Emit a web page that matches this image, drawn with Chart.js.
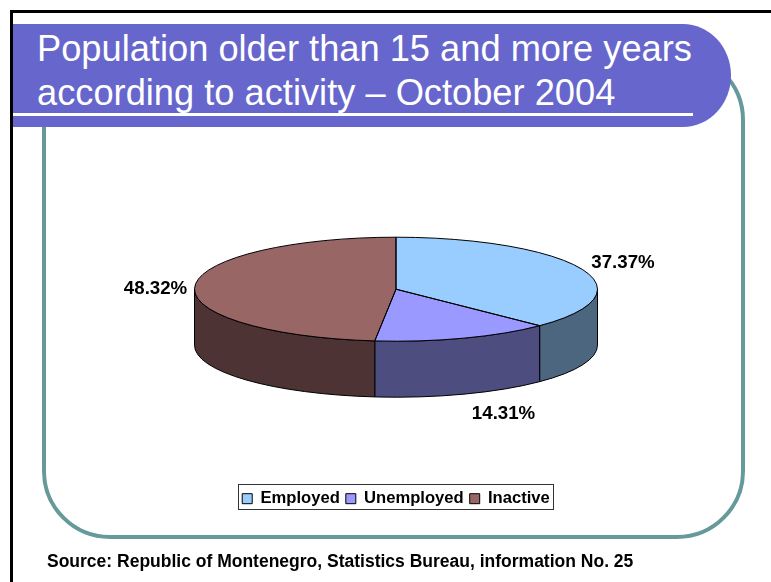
<!DOCTYPE html>
<html><head><meta charset="utf-8">
<script src="https://cdn.jsdelivr.net/npm/chart.js@4"></script>
<style>
html,body{margin:0;padding:0;background:#fff;width:771px;height:582px;overflow:hidden;font-family:"Liberation Sans",Arial,sans-serif}
#bt{position:absolute;left:10px;top:10px;width:761px;height:3px;background:#000}
#bl{position:absolute;left:10px;top:10px;width:3px;height:572px;background:#000}
#frame{position:absolute;left:42px;top:52px;width:695px;height:479px;border:4px solid #669999;border-radius:68px}
#band{position:absolute;left:13px;top:24px;width:718px;height:103px;background:#6666cc;border-radius:0 48px 48px 0/0 51.5px 51.5px 0}
#rule{position:absolute;left:13px;top:113px;width:680px;height:3px;background:#fff}
.t{position:absolute;left:37px;color:#fff;font-size:36.25px;line-height:44px;white-space:nowrap}
#src{position:absolute;left:47px;top:550px;font-weight:bold;font-size:17.5px;line-height:22px;white-space:nowrap;color:#000}
canvas{position:absolute;left:0;top:0}
</style></head><body>
<div id="bt"></div><div id="bl"></div><div id="frame"></div><div id="band"></div><div id="rule"></div>
<div class="t" style="top:27px">Population older than 15 and more years</div>
<div class="t" style="top:71px">according to activity – October 2004</div>
<canvas id="c" width="771" height="582"></canvas>
<div id="src">Source: Republic of Montenegro, Statistics Bureau, information No. 25</div>
<script>
const categories = ["Employed", "Unemployed", "Inactive"];
const shares = [37.37, 14.31, 48.32];
const topColors = ["#99ccff", "#9999ff", "#996666"];
const sideColors = ["#4d6680", "#4d4d80", "#4d3333"];
const valueLabels = ["37.37%", "14.31%", "48.32%"];
const labelOffsets = [[4, -2.5], [26, 65.5], [1, 2.5]];
const squash = 52 / 201.5, depth = 56;

const tilt = {
  id: "tilt",
  beforeDatasetsDraw(chart) {
    const ctx = chart.ctx, arcs = chart.getDatasetMeta(0).data;
    ctx.save();
    ctx.lineWidth = 1; ctx.strokeStyle = "#000";
    arcs.forEach((a, i) => {
      const p = a.getProps(["x", "y", "startAngle", "endAngle", "outerRadius"], true);
      const s = Math.max(p.startAngle, 0), e = Math.min(p.endAngle, Math.PI);
      if (e <= s) return;
      const ry = p.outerRadius * squash;
      ctx.beginPath();
      ctx.ellipse(p.x, p.y, p.outerRadius, ry, 0, s, e);
      ctx.lineTo(p.x + p.outerRadius * Math.cos(e), p.y + ry * Math.sin(e) + depth);
      ctx.ellipse(p.x, p.y + depth, p.outerRadius, ry, 0, e, s, true);
      ctx.closePath();
      ctx.fillStyle = sideColors[i];
      ctx.fill(); ctx.stroke();
    });
    ctx.restore();
    const c = arcs[0];
    ctx.save();
    ctx.translate(0, c.y);
    ctx.scale(1, squash);
    ctx.translate(0, -c.y);
  },
  afterDatasetsDraw(chart) {
    const ctx = chart.ctx, arcs = chart.getDatasetMeta(0).data;
    ctx.restore();
    ctx.save();
    ctx.lineWidth = 1; ctx.strokeStyle = "#000";
    arcs.forEach((a, i) => {
      const p = a.getProps(["x", "y", "startAngle", "endAngle", "outerRadius"], true);
      const ry = p.outerRadius * squash;
      ctx.beginPath();
      ctx.moveTo(p.x, p.y);
      ctx.ellipse(p.x, p.y, p.outerRadius, ry, 0, p.startAngle, p.endAngle);
      ctx.closePath();
      ctx.stroke();
      const m = (p.startAngle + p.endAngle) / 2;
      const lx = p.x + p.outerRadius * Math.cos(m) * 1.2 + labelOffsets[i][0];
      const ly = p.y + ry * Math.sin(m) * 1.2 + labelOffsets[i][1];
      ctx.fillStyle = "#000";
      ctx.font = "bold 18.7px 'Liberation Sans'";
      ctx.textAlign = "center"; ctx.textBaseline = "middle";
      ctx.fillText(valueLabels[i], lx, ly);
    });
    ctx.restore();
  },
  afterDraw(chart) {
    const l = chart.legend, ctx = chart.ctx;
    const hb = l.legendHitBoxes;
    const x0 = hb[0].left - 4, x1 = hb[hb.length - 1].left + hb[hb.length - 1].width + 3;
    ctx.save();
    ctx.strokeStyle = "#333"; ctx.lineWidth = 1;
    ctx.strokeRect(Math.round(x0) + .5, 484.5, Math.round(x1 - x0), 25);
    ctx.restore();
  }
};

new Chart(document.getElementById("c"), {
  type: "pie",
  data: { labels: categories, datasets: [{ data: shares, backgroundColor: topColors, borderWidth: 0, hoverOffset: 0 }] },
  options: {
    responsive: false, animation: false,
    radius: 201.5,
    layout: { padding: { left: 194, right: 173, top: 94, bottom: 65 } },
    events: [],
    plugins: {
      tooltip: { enabled: false },
      legend: {
        position: "bottom",
        labels: { color: "#000", font: { family: "Liberation Sans", weight: "bold", size: 16.6 }, boxWidth: 10, boxHeight: 10, padding: 6, generateLabels(chart) {
          return categories.map((t, i) => ({ text: t, fillStyle: topColors[i], strokeStyle: "#000", lineWidth: 1, index: i, hidden: false }));
        } }
      }
    }
  },
  plugins: [tilt]
});
</script>
</body></html>
